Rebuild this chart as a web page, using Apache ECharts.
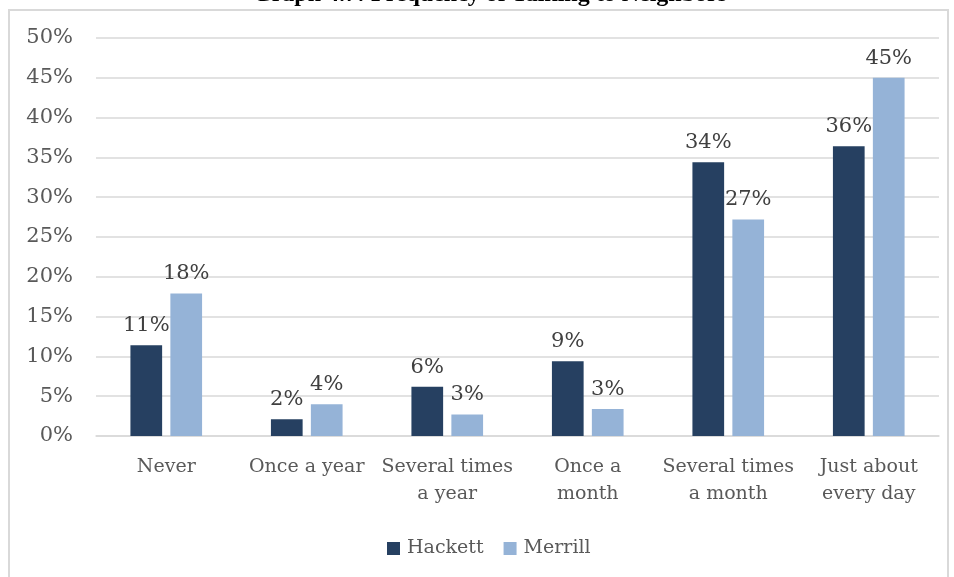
<!DOCTYPE html>
<html>
<head>
<meta charset="utf-8">
<title>Frequency of Talking to Neighbors</title>
<script src="https://cdn.jsdelivr.net/npm/echarts@6/dist/echarts.min.js"></script>
<style>
  html, body { margin: 0; padding: 0; background: #ffffff; }
  #chart { width: 954px; height: 577px; }
</style>
</head>
<body>
<div id="chart"></div>
<script>
// How often residents talk to their neighbours (share of respondents, %)
const categories = ['Never', 'Once a year', 'Several times\na year', 'Once a\nmonth', 'Several times\na month', 'Just about\nevery day'];
const hackett = [11.4, 2.1, 6.2, 9.4, 34.4, 36.4];
const merrill = [17.9, 4.0, 2.7, 3.4, 27.2, 45.0];
const yTicks = [0, 5, 10, 15, 20, 25, 30, 35, 40, 45, 50];

const FONT = '"DejaVu Serif", serif';
const chart = echarts.init(document.getElementById('chart'), null, { renderer: 'canvas' });

const pct = v => Math.round(v) + '%';

chart.setOption({
  animation: false,
  backgroundColor: '#ffffff',
  textStyle: { fontFamily: FONT },
  graphic: [
    {
      type: 'rect',
      shape: { x: 9, y: 10, width: 939, height: 580 },
      style: { fill: 'none', stroke: '#d9d9d9', lineWidth: 2 },
      z: -1
    },
    {
      type: 'text',
      x: 490, y: 7,
      style: {
        text: 'Graph 4.7: Frequency of Talking to Neighbors',
        font: 'bold 24px "Liberation Serif", serif',
        fill: '#000000',
        align: 'center',
        verticalAlign: 'bottom'
      }
    }
  ],
  grid: { left: 96, right: 15, top: 38, bottom: 141, containLabel: false },
  legend: {
    bottom: 14,
    left: 382,
    itemWidth: 13,
    itemHeight: 13,
    itemGap: 20,
    icon: 'rect',
    textStyle: { fontFamily: FONT, fontSize: 19, color: '#595959', padding: [0, 0, 0, 2] },
    data: ['Hackett', 'Merrill']
  },
  xAxis: {
    type: 'category',
    data: categories,
    axisLine: { show: true, lineStyle: { color: '#d9d9d9', width: 1.5 } },
    axisTick: { show: false },
    axisLabel: {
      interval: 0,
      margin: 18,
      fontFamily: FONT,
      fontSize: 19,
      lineHeight: 27,
      color: '#595959'
    }
  },
  yAxis: {
    type: 'value',
    min: yTicks[0],
    max: yTicks[yTicks.length - 1],
    interval: yTicks[1] - yTicks[0],
    axisLine: { show: false },
    axisTick: { show: false },
    splitLine: { lineStyle: { color: '#d9d9d9', width: 1.5 } },
    axisLabel: {
      margin: 23,
      fontFamily: FONT,
      fontSize: 21,
      color: '#595959',
      formatter: v => v + '%'
    }
  },
  series: [
    {
      name: 'Hackett',
      type: 'bar',
      data: hackett,
      barGap: '26%',
      barCategoryGap: '49%',
      itemStyle: { color: '#264061' },
      label: {
        show: true,
        position: 'top',
        distance: 9,
        fontFamily: FONT,
        fontSize: 21,
        color: '#404040',
        formatter: p => pct(p.value)
      }
    },
    {
      name: 'Merrill',
      type: 'bar',
      data: merrill,
      itemStyle: { color: '#95b3d7' },
      label: {
        show: true,
        position: 'top',
        distance: 9,
        fontFamily: FONT,
        fontSize: 21,
        color: '#404040',
        formatter: p => pct(p.value)
      }
    }
  ]
});
</script>
</body>
</html>
